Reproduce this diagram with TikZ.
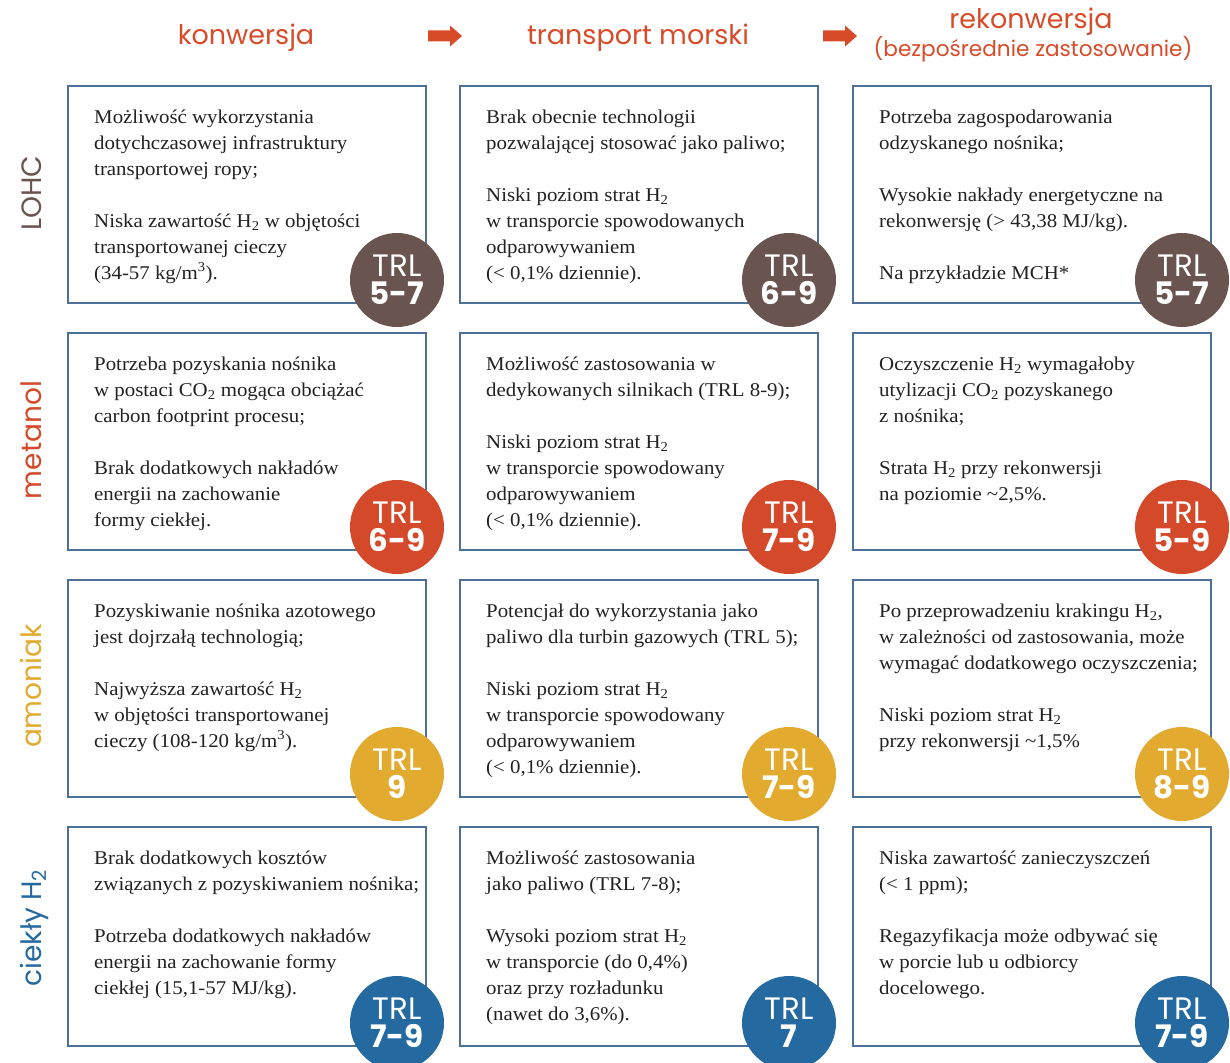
\documentclass[tikz,border=0pt]{standalone}
\usepackage{fontspec}
\setmainfont{Liberation Serif}[FakeStretch=1.07]
\newfontfamily\hfont{Poppins}
\definecolor{hdrc}{HTML}{D84B29}
\definecolor{cL}{HTML}{6A5450}
\definecolor{cM}{HTML}{D4492A}
\definecolor{cA}{HTML}{E2AA2E}
\definecolor{cH}{HTML}{2469A0}
\definecolor{framec}{HTML}{4C7097}
\definecolor{bodyc}{HTML}{222222}
\newcommand{\Hdwa}{H\textsubscript{2}}
\newcommand{\COdwa}{CO\textsubscript{2}}
\newcommand{\mtri}{m\textsuperscript{3}}
\newcommand{\fst}{\rule{0pt}{16pt}}
\tikzset{
  cell/.style={draw=framec, line width=2pt, fill=white, minimum width=358pt, minimum height=217pt, inner sep=0pt, anchor=north west},
  celltext/.style={anchor=north west, inner sep=0pt, align=left, text=bodyc, font=\fontsize{19.5}{26}\selectfont},
  trl/.style={circle, fill=#1, minimum size=94pt, inner sep=0pt, text=white, align=center, font=\hfont\fontsize{31}{28}\selectfont},
  rowlab/.style={rotate=90, anchor=base, text=#1, inner sep=0pt, font=\hfont\fontsize{28}{30}\selectfont},
  hdr/.style={text=hdrc, anchor=base, inner sep=0pt, font=\hfont\fontsize{27}{30}\selectfont},
  blockarrow/.style={fill=hdrc}
}
\begin{document}
\begin{tikzpicture}[x=1pt,y=-1pt]
\useasboundingbox (0,0) rectangle (1230,1062);
% headers
\node[hdr] (h1) at (246,45) {konwersja};
\node[hdr] (h2) at (638,45) {transport morski};
\node[hdr] (h3) at (1031,29) {rekonwersja};
\node[hdr, font=\hfont\fontsize{21.6}{24}\selectfont] (h3b) at (1033,57) {(bezpośrednie zastosowanie)};
\coordinate (a1) at (428,36);
\coordinate (a2) at (823,36);
\fill[blockarrow] (a1) ++(0,-5.5) -- ++(22,0) -- ++(0,-5) -- ++(12,10.5) -- ++(-12,10.5) -- ++(0,-5) -- ++(-22,0) -- cycle;
\fill[blockarrow] (a2) ++(0,-5.5) -- ++(22,0) -- ++(0,-5) -- ++(12,10.5) -- ++(-12,10.5) -- ++(0,-5) -- ++(-22,0) -- cycle;
% row labels
\node[rowlab=cL] (r1) at (41,193) {LOHC};
\node[rowlab=cM] (r2) at (41,440) {metanol};
\node[rowlab=cA] (r3) at (41,686) {amoniak};
\node[rowlab=cH] (r4) at (41,928) {ciekły \Hdwa};
% boxes
\node[cell] (b11) at (67,85) {};
\node[cell] (b12) at (459,85) {};
\node[cell] (b13) at (852,85) {};
\node[cell] (b21) at (67,332) {};
\node[cell] (b22) at (459,332) {};
\node[cell] (b23) at (852,332) {};
\node[cell] (b31) at (67,579) {};
\node[cell] (b32) at (459,579) {};
\node[cell] (b33) at (852,579) {};
\node[cell, minimum height=219pt] (b41) at (67,826) {};
\node[cell, minimum height=219pt] (b42) at (459,826) {};
\node[cell, minimum height=219pt] (b43) at (852,826) {};
% texts
\node[celltext] (t11) at ([shift={(27,22)}]b11.north west) {\fst Możliwość wykorzystania\\ dotychczasowej infrastruktury\\ transportowej ropy;\\[26pt] Niska zawartość \Hdwa{} w objętości\\ transportowanej cieczy\\ (34-57 kg/\mtri).};
\node[celltext] (t12) at ([shift={(27,22)}]b12.north west) {\fst Brak obecnie technologii\\ pozwalającej stosować jako paliwo;\\[26pt] Niski poziom strat \Hdwa\\ w transporcie spowodowanych\\ odparowywaniem\\ (< 0,1\% dziennie).};
\node[celltext] (t13) at ([shift={(27,22)}]b13.north west) {\fst Potrzeba zagospodarowania\\ odzyskanego nośnika;\\[26pt] Wysokie nakłady energetyczne na\\ rekonwersję (> 43,38 MJ/kg).\\[26pt] Na przykładzie MCH*};
\node[celltext] (t21) at ([shift={(27,22)}]b21.north west) {\fst Potrzeba pozyskania nośnika\\ w postaci \COdwa{} mogąca obciążać\\ carbon footprint procesu;\\[26pt] Brak dodatkowych nakładów\\ energii na zachowanie\\ formy ciekłej.};
\node[celltext] (t22) at ([shift={(27,22)}]b22.north west) {\fst Możliwość zastosowania w\\ dedykowanych silnikach (TRL 8-9);\\[26pt] Niski poziom strat \Hdwa\\ w transporcie spowodowany\\ odparowywaniem\\ (< 0,1\% dziennie).};
\node[celltext] (t23) at ([shift={(27,22)}]b23.north west) {\fst Oczyszczenie \Hdwa{} wymagałoby\\ utylizacji \COdwa{} pozyskanego\\ z nośnika;\\[26pt] Strata \Hdwa{} przy rekonwersji\\ na poziomie \textasciitilde 2,5\%.};
\node[celltext] (t31) at ([shift={(27,22)}]b31.north west) {\fst Pozyskiwanie nośnika azotowego\\ jest dojrzałą technologią;\\[26pt] Najwyższa zawartość \Hdwa\\ w objętości transportowanej\\ cieczy (108-120 kg/\mtri).};
\node[celltext] (t32) at ([shift={(27,22)}]b32.north west) {\fst Potencjał do wykorzystania jako\\ paliwo dla turbin gazowych (TRL 5);\\[26pt] Niski poziom strat \Hdwa\\ w transporcie spowodowany\\ odparowywaniem\\ (< 0,1\% dziennie).};
\node[celltext] (t33) at ([shift={(27,22)}]b33.north west) {\fst Po przeprowadzeniu krakingu \Hdwa,\\ w zależności od zastosowania, może\\ wymagać dodatkowego oczyszczenia;\\[26pt] Niski poziom strat \Hdwa\\ przy rekonwersji \textasciitilde 1,5\%};
\node[celltext] (t41) at ([shift={(27,22)}]b41.north west) {\fst Brak dodatkowych kosztów\\ związanych z pozyskiwaniem nośnika;\\[26pt] Potrzeba dodatkowych nakładów\\ energii na zachowanie formy\\ ciekłej (15,1-57 MJ/kg).};
\node[celltext] (t42) at ([shift={(27,22)}]b42.north west) {\fst Możliwość zastosowania\\ jako paliwo (TRL 7-8);\\[26pt] Wysoki poziom strat \Hdwa\\ w transporcie (do 0,4\%)\\ oraz przy rozładunku\\ (nawet do 3,6\%).};
\node[celltext] (t43) at ([shift={(27,22)}]b43.north west) {\fst Niska zawartość zanieczyszczeń\\ (< 1 ppm);\\[26pt] Regazyfikacja może odbywać się\\ w porcie lub u odbiorcy\\ docelowego.};
% TRL circles
\node[trl=cL] (c11) at ([shift={(-30,-24)}]b11.south east) {TRL\\ \bfseries 5-7};
\node[trl=cL] (c12) at ([shift={(-30,-24)}]b12.south east) {TRL\\ \bfseries 6-9};
\node[trl=cL] (c13) at ([shift={(-30,-24)}]b13.south east) {TRL\\ \bfseries 5-7};
\node[trl=cM] (c21) at ([shift={(-30,-24)}]b21.south east) {TRL\\ \bfseries 6-9};
\node[trl=cM] (c22) at ([shift={(-30,-24)}]b22.south east) {TRL\\ \bfseries 7-9};
\node[trl=cM] (c23) at ([shift={(-30,-24)}]b23.south east) {TRL\\ \bfseries 5-9};
\node[trl=cA] (c31) at ([shift={(-30,-24)}]b31.south east) {TRL\\ \bfseries 9};
\node[trl=cA] (c32) at ([shift={(-30,-24)}]b32.south east) {TRL\\ \bfseries 7-9};
\node[trl=cA] (c33) at ([shift={(-30,-24)}]b33.south east) {TRL\\ \bfseries 8-9};
\node[trl=cH] (c41) at ([shift={(-30,-24)}]b41.south east) {TRL\\ \bfseries 7-9};
\node[trl=cH] (c42) at ([shift={(-30,-24)}]b42.south east) {TRL\\ \bfseries 7};
\node[trl=cH] (c43) at ([shift={(-30,-24)}]b43.south east) {TRL\\ \bfseries 7-9};
\end{tikzpicture}
\end{document}
